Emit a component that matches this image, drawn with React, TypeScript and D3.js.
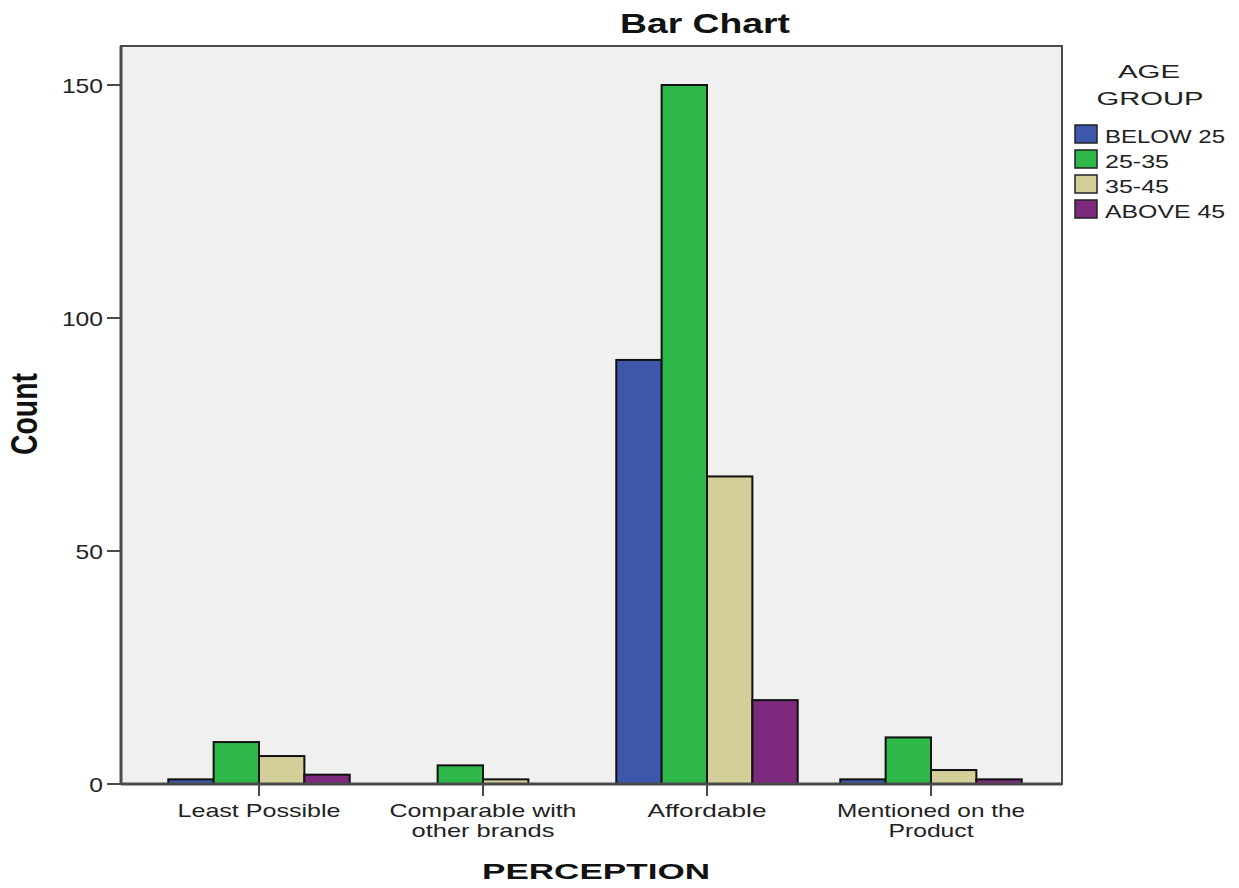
import React from "react";
import * as d3 from "d3";

const categories = ["Least Possible", "Comparable with other brands", "Affordable", "Mentioned on the Product"];
const categoryLines = [["Least Possible"], ["Comparable with", "other brands"], ["Affordable"], ["Mentioned on the", "Product"]];
const groups = ["BELOW 25", "25-35", "35-45", "ABOVE 45"];
const below25 = [1, 0, 91, 1];
const age25to35 = [9, 4, 150, 10];
const age35to45 = [6, 1, 66, 3];
const above45 = [2, 0, 18, 1];
const yTicks = [0, 50, 100, 150];
const colors = ["#3d58ab", "#2fb84a", "#d4cf98", "#7d297e"];

const series = [below25, age25to35, age35to45, above45];

// measured rendered widths of text in the reference (horizontal stretch)
const catWidths: Record<string, number> = {
  "Least Possible": 163, "Comparable with": 187, "other brands": 143,
  "Affordable": 119, "Mentioned on the": 188, "Product": 85,
};
const legendWidths: Record<string, number> = { "BELOW 25": 120, "25-35": 64, "35-45": 64, "ABOVE 45": 120 };

export default function App() {
  const W = 1239, H = 888;
  const left = 121, right = 1062, top = 46, bottom = 784;
  const y = d3.scaleLinear().domain([0, 150]).range([bottom, 85]);
  const x0 = d3.scaleBand<string>().domain(categories).range([147, 1043]).paddingInner(0.19).paddingOuter(0.095);
  const x1 = d3.scaleBand<string>().domain(groups).range([0, x0.bandwidth()]);
  const font = "'Liberation Sans', Arial, sans-serif";
  const fit = "spacingAndGlyphs";
  return (
    <svg width={W} height={H} style={{ position: "absolute", left: 0, top: 0, background: "#fff" }} fontFamily={font}>
      <rect x={0} y={0} width={W} height={H} fill="#fff" />
      <rect x={left} y={top} width={right - left} height={bottom - top} fill="#f0f0f0" stroke="#4a4a4a" strokeWidth={2} />
      <text x={705} y={33} textAnchor="middle" fontSize={28} fontWeight="bold" fill="#111" textLength={170} lengthAdjust={fit}>Bar Chart</text>
      {categories.map((c, i) => (
        <g key={c}>
          {groups.map((g, j) => {
            const v = series[j][i];
            if (v <= 0) return null;
            const bx = (x0(c) as number) + (x1(g) as number);
            return (
              <rect key={g} x={bx} y={y(v)} width={x1.bandwidth()} height={bottom - y(v)}
                fill={colors[j]} stroke="#111" strokeWidth={2} />
            );
          })}
        </g>
      ))}
      {/* axes */}
      <line x1={left} x2={left} y1={top} y2={bottom} stroke="#4a4a4a" strokeWidth={3} />
      <line x1={left} x2={right} y1={bottom} y2={bottom} stroke="#4a4a4a" strokeWidth={3} />
      {yTicks.map(t => (
        <g key={t}>
          <line x1={107} x2={left} y1={y(t)} y2={y(t)} stroke="#4a4a4a" strokeWidth={2} />
          <text x={103} y={y(t) + 8} textAnchor="end" fontSize={21} fill="#222"
            textLength={String(t).length * 13.7} lengthAdjust={fit}>{t}</text>
        </g>
      ))}
      {categories.map((c, i) => {
        const cx = (x0(c) as number) + x0.bandwidth() / 2;
        return (
          <g key={c}>
            <line x1={cx} x2={cx} y1={bottom} y2={796} stroke="#4a4a4a" strokeWidth={2} />
            {categoryLines[i].map((ln, k) => (
              <text key={k} x={cx} y={817 + k * 20} textAnchor="middle" fontSize={19} fill="#222"
                textLength={catWidths[ln]} lengthAdjust={fit}>{ln}</text>
            ))}
          </g>
        );
      })}
      <text transform="translate(37,414) rotate(-90) scale(1,1.3)" textAnchor="middle" fontSize={28} fontWeight="bold" fill="#111"
        textLength={82} lengthAdjust={fit}>Count</text>
      <text x={596} y={879} textAnchor="middle" fontSize={22} fontWeight="bold" fill="#111" textLength={228} lengthAdjust={fit}>PERCEPTION</text>
      {/* legend */}
      <text x={1149} y={78} textAnchor="middle" fontSize={18} fill="#222" textLength={62} lengthAdjust={fit}>AGE</text>
      <text x={1150} y={105} textAnchor="middle" fontSize={18} fill="#222" textLength={107} lengthAdjust={fit}>GROUP</text>
      {groups.map((g, j) => (
        <g key={g}>
          <rect x={1075} y={125 + j * 25} width={22} height={18} fill={colors[j]} stroke="#222" strokeWidth={1.5} />
          <text x={1105} y={143 + j * 25} fontSize={18} fill="#222" textLength={legendWidths[g]} lengthAdjust={fit}>{g}</text>
        </g>
      ))}
    </svg>
  );
}
